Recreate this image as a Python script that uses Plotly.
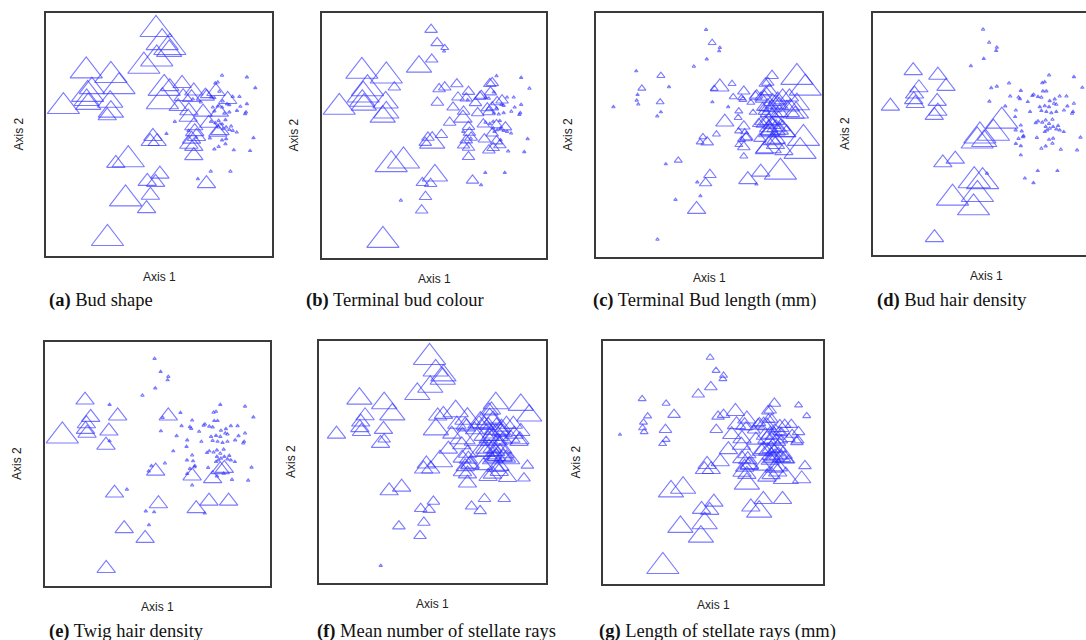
import plotly.graph_objects as go

W, H = 1086, 640

# Ordination scores (same sample configuration in every panel)
axis1 = [
    0.487, 0.514, 0.548, 0.545, 0.490, 0.433,
    0.178, 0.287, 0.203, 0.323, 0.184, 0.180, 0.187, 0.284, 0.287, 0.271, 0.077,
    0.309, 0.364, 0.504, 0.448, 0.485, 0.462, 0.352, 0.445, 0.272, 0.672, 0.729, 0.710, 0.816,
    0.473, 0.461, 0.492, 0.533, 0.570, 0.523, 0.548, 0.602, 0.654, 0.644, 0.607, 0.515,
    0.585, 0.632, 0.629, 0.695, 0.654, 0.658, 0.666, 0.644, 0.632, 0.654, 0.654, 0.725,
    0.779, 0.889, 0.760, 0.749, 0.926, 0.752, 0.767, 0.650, 0.705, 0.711, 0.730, 0.745,
    0.782, 0.804, 0.826, 0.856, 0.685, 0.738, 0.760, 0.779, 0.801, 0.811, 0.889, 0.860,
    0.745, 0.767, 0.789, 0.811, 0.845, 0.885, 0.881, 0.720, 0.730, 0.749, 0.764, 0.779,
    0.794, 0.764, 0.782, 0.797, 0.819, 0.811, 0.826, 0.844, 0.631, 0.664, 0.760, 0.770,
    0.779, 0.797, 0.918, 0.764, 0.745, 0.794, 0.831, 0.903,
]
axis2 = [
    0.932, 0.878, 0.858, 0.844, 0.811, 0.781,
    0.762, 0.743, 0.691, 0.697, 0.665, 0.642, 0.626, 0.635, 0.594, 0.577, 0.615,
    0.381, 0.396, 0.337, 0.307, 0.303, 0.250, 0.235, 0.195, 0.072, 0.317, 0.348, 0.298, 0.348,
    0.492, 0.471, 0.471, 0.503, 0.553, 0.690, 0.697, 0.710, 0.679, 0.652, 0.656, 0.635,
    0.615, 0.598, 0.571, 0.592, 0.536, 0.512, 0.492, 0.481, 0.460, 0.451, 0.413, 0.485,
    0.743, 0.736, 0.715, 0.711, 0.692, 0.677, 0.677, 0.645, 0.658, 0.663, 0.654, 0.651,
    0.637, 0.644, 0.656, 0.656, 0.633, 0.612, 0.616, 0.612, 0.626, 0.622, 0.626, 0.615,
    0.596, 0.592, 0.587, 0.592, 0.598, 0.592, 0.585, 0.546, 0.553, 0.548, 0.557, 0.543,
    0.560, 0.530, 0.523, 0.530, 0.534, 0.520, 0.516, 0.509, 0.516, 0.488, 0.509, 0.516,
    0.477, 0.482, 0.486, 0.450, 0.440, 0.461, 0.436, 0.433,
]

# Character state classes (0 = smallest ... 5 = largest) per trait
bud_shape = [
    5, 5, 5, 4, 5, 5,
    5, 5, 4, 5, 5, 4, 4, 4, 4, 3, 5,
    3, 5, 3, 3, 3, 3, 5, 3, 5, 0, 0, 3, 0,
    3, 3, 3, 0, 0, 5, 3, 3, 3, 3, 3, 5, 3, 3, 3, 3, 3, 3, 3, 3, 3, 3, 3, 0,
    0, 0, 0, 0, 0, 3, 0, 0, 3, 2, 0, 0, 0, 3, 0, 0, 0, 0, 0, 0, 0, 0, 0, 0,
    0, 3, 0, 0, 0, 0, 0, 3, 0, 0, 0, 0, 0, 0, 0, 0, 0, 0, 0, 0, 0, 0, 3, 3,
    0, 0, 0, 0, 0, 0, 0, 0,
]
terminal_bud_colour = [
    2, 2, 1, 0, 2, 4,
    5, 5, 5, 2, 5, 4, 4, 4, 4, 4, 5,
    5, 5, 4, 2, 2, 2, 0, 2, 5, 2, 0, 0, 0,
    2, 2, 4, 2, 2, 2, 2, 2, 2, 2, 2, 2, 2, 2, 3, 2, 2, 2, 2, 2, 2, 2, 2, 2,
    0, 0, 2, 2, 0, 2, 0, 0, 2, 2, 0, 0, 2, 2, 0, 0, 2, 2, 2, 0, 0, 0, 0, 0,
    2, 0, 0, 0, 0, 0, 0, 2, 0, 0, 0, 2, 0, 0, 0, 0, 2, 0, 0, 0, 0, 0, 2, 0,
    2, 0, 0, 2, 2, 2, 0, 0,
]
terminal_bud_length = [
    0, 1, 0, 0, 0, 0,
    0, 1, 1, 0, 0, 0, 0, 1, 0, 0, 0,
    0, 1, 2, 0, 2, 0, 0, 3, 0, 3, 3, 0, 5,
    1, 1, 2, 1, 3, 1, 3, 1, 2, 1, 1, 0, 0, 1, 1, 1, 2, 1, 2, 1, 1, 2, 1, 2,
    2, 5, 2, 2, 5, 2, 3, 1, 2, 2, 2, 3, 3, 3, 3, 3, 1, 2, 3, 3, 3, 3, 4, 3,
    2, 3, 3, 3, 4, 4, 3, 2, 2, 3, 3, 3, 3, 3, 4, 3, 3, 3, 4, 3, 1, 2, 3, 3,
    3, 3, 5, 4, 3, 3, 3, 5,
]
bud_hair_density = [
    0, 0, 0, 0, 0, 0,
    3, 3, 3, 3, 3, 3, 3, 3, 3, 3, 3,
    3, 3, 0, 5, 5, 5, 5, 5, 3, 0, 0, 0, 0,
    5, 5, 4, 5, 5, 0, 0, 0, 0, 0, 0, 0, 0, 0, 0, 0, 0, 0, 0, 0, 0, 0, 0, 0,
    0, 0, 0, 0, 0, 0, 0, 0, 0, 0, 0, 0, 0, 0, 0, 0, 0, 0, 0, 0, 0, 0, 0, 0,
    0, 0, 0, 0, 0, 0, 0, 0, 0, 0, 0, 0, 0, 0, 0, 0, 0, 0, 0, 0, 0, 0, 0, 0,
    0, 0, 0, 0, 0, 0, 0, 0,
]
twig_hair_density = [
    0, 0, 0, 0, 0, 0,
    3, 0, 3, 3, 3, 3, 3, 3, 0, 3, 5,
    3, 0, 3, 0, 0, 0, 3, 3, 3, 3, 3, 0, 3,
    0, 0, 3, 0, 0, 0, 3, 0, 0, 0, 0, 0, 0, 0, 0, 0, 0, 0, 0, 0, 0, 3, 0, 0,
    0, 0, 0, 0, 0, 0, 0, 0, 0, 0, 0, 0, 0, 0, 0, 0, 0, 0, 0, 0, 0, 0, 0, 0,
    0, 0, 0, 0, 0, 0, 0, 0, 0, 0, 0, 0, 0, 0, 0, 0, 0, 0, 0, 0, 0, 0, 0, 0,
    3, 3, 0, 0, 3, 0, 0, 0,
]
stellate_ray_number = [
    5, 4, 4, 4, 4, 4,
    4, 4, 3, 4, 3, 3, 3, 3, 2, 3, 3,
    3, 3, 2, 2, 2, 2, 2, 2, 0, 2, 2, 2, 2,
    3, 3, 3, 4, 3, 3, 3, 4, 4, 3, 3, 4, 3, 4, 3, 4, 3, 3, 3, 3, 3, 3, 3, 3,
    4, 4, 3, 3, 4, 4, 3, 3, 3, 4, 3, 3, 4, 3, 3, 3, 3, 4, 3, 4, 3, 3, 3, 3,
    3, 4, 3, 3, 3, 3, 3, 4, 3, 4, 3, 3, 4, 3, 3, 4, 3, 3, 3, 3, 3, 3, 3, 3,
    3, 3, 2, 3, 3, 3, 3, 2,
]
stellate_ray_length = [
    1, 1, 1, 1, 2, 2,
    1, 1, 1, 2, 1, 1, 1, 2, 1, 1, 0,
    4, 4, 3, 3, 3, 4, 4, 4, 5, 3, 3, 4, 3,
    3, 3, 3, 3, 3, 2, 2, 3, 3, 3, 3, 2, 3, 3, 3, 3, 3, 3, 3, 3, 3, 3, 4, 3,
    2, 1, 2, 2, 1, 2, 2, 2, 2, 2, 3, 3, 2, 3, 2, 2, 2, 3, 3, 3, 2, 2, 2, 2,
    3, 3, 3, 2, 2, 2, 2, 3, 3, 3, 3, 3, 3, 3, 3, 3, 3, 3, 3, 2, 3, 3, 3, 3,
    3, 3, 2, 3, 3, 3, 4, 3,
]

panel_traits = [bud_shape, terminal_bud_colour, terminal_bud_length, bud_hair_density,
                twig_hair_density, stellate_ray_number, stellate_ray_length]
panel_letters = ["(a)", "(b)", "(c)", "(d)", "(e)", "(f)", "(g)"]
panel_titles = ["Bud shape", "Terminal bud colour", "Terminal Bud length (mm)",
                "Bud hair density", "Twig hair density",
                "Mean number of stellate rays", "Length of stellate rays (mm)"]

# layout (pixel boxes: left, right, top, bottom)
boxes = [
    (46, 272, 13, 256),
    (322, 546, 13, 258),
    (596, 822, 13, 257),
    (873, 1099, 13, 255),
    (45, 270, 342, 586),
    (319, 546, 341, 583),
    (603, 823, 341, 584),
]
caption_pos = [(47, 300), (304, 300), (591, 300), (875, 300),
               (47, 631), (315, 631), (597, 631)]
class_size = [3, 7, 11, 16, 22, 28]

fig = go.Figure()
annotations = []
for i, (trait, box) in enumerate(zip(panel_traits, boxes)):
    l, r, t, b = box
    r_vis = min(r, W)
    xfrac = (r_vis - l) / (r - l)
    n = "" if i == 0 else str(i + 1)
    xa, ya = "x" + n, "y" + n
    fig.add_trace(go.Scatter(
        x=axis1, y=axis2, mode="markers", xaxis=xa, yaxis=ya, showlegend=False,
        marker=dict(symbol="triangle-up-open", size=[class_size[c] for c in trait],
                    color="rgba(45,45,255,0.9)", line=dict(width=1.1, color="rgba(45,45,255,0.9)")),
        hoverinfo="skip", cliponaxis=True,
    ))
    fig.update_layout(**{
        "xaxis" + n: dict(domain=[l / W, r_vis / W], range=[0, 1.0 * xfrac], showline=True,
                          mirror=True, linecolor="#3a3a3a", linewidth=1.5, showgrid=False,
                          zeroline=False, showticklabels=False, ticks="", anchor=ya),
        "yaxis" + n: dict(domain=[1 - b / H, 1 - t / H], range=[0, 1], showline=True,
                          mirror=(r <= W), linecolor="#3a3a3a", linewidth=1.5, showgrid=False,
                          zeroline=False, showticklabels=False, ticks="", anchor=xa),
    })
    cx = (l + r) / 2
    annotations.append(dict(text="Axis 1", x=cx / W, y=1 - (b + 21) / H, xref="paper", yref="paper",
                            showarrow=False, xanchor="center", yanchor="middle",
                            font=dict(family="Liberation Sans, Arial", size=12, color="#222")))
    annotations.append(dict(text="Axis 2", x=(l - 28) / W, y=1 - ((t + b) / 2) / H, xref="paper",
                            yref="paper", showarrow=False, textangle=-90, xanchor="center",
                            yanchor="middle",
                            font=dict(family="Liberation Sans, Arial", size=12, color="#222")))
    px, py = caption_pos[i]
    annotations.append(dict(text="<b>" + panel_letters[i] + "</b> " + panel_titles[i],
                            x=px / W, y=1 - py / H, xref="paper", yref="paper", showarrow=False,
                            xanchor="left", yanchor="middle",
                            font=dict(family="Liberation Serif, Times New Roman", size=18.5,
                                      color="#111")))

fig.update_layout(width=W, height=H, margin=dict(l=0, r=0, t=0, b=0),
                  paper_bgcolor="white", plot_bgcolor="white", annotations=annotations)
fig.write_html("out.html", config={"displayModeBar": False},
               post_script="document.body.style.margin='0';document.body.style.overflow='hidden';")
